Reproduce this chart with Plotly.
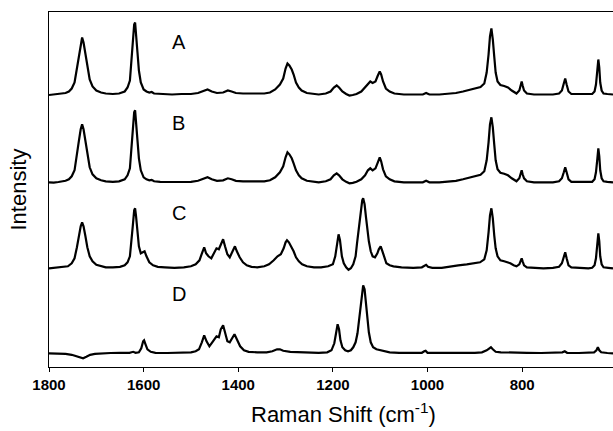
import plotly.graph_objects as go

# Raman spectra: (wavenumber cm-1, intensity above own baseline, arb. units)
SPEC_A = [(1800,-0.5),(1790,0),(1780,0.3),(1772,1),(1765,1.5),(1758,3),(1752,6),(1746,12),(1741,26),(1737,40),(1733,52),(1730,57),(1727,52),(1723,40),(1719,27),(1714,15),(1708,8),(1700,4),(1690,2),(1680,1),(1665,0.5),(1652,1),(1640,3),(1634,7),(1629,14),(1626,30),(1623,50),(1620,70),(1618,72),(1616,62),(1613,42),(1610,24),(1606,12),(1600,5),(1594,3),(1588,2),(1583,2.5),(1578,1),(1565,0.5),(1540,0),(1520,0.5),(1500,0.5),(1485,1.5),(1475,3),(1465,5),(1456,3),(1445,1.5),(1432,2),(1422,4),(1414,3),(1405,1.5),(1390,1),(1370,1),(1355,1),(1345,1),(1333,2),(1322,5),(1312,10),(1305,16),(1300,26),(1296,31),(1292,29),(1287,25),(1283,20),(1278,12),(1272,7),(1266,4),(1255,1.5),(1242,0.5),(1230,0),(1215,1),(1205,3),(1198,7),(1192,9),(1187,7),(1180,3),(1172,0.5),(1165,-1),(1158,-0.5),(1150,0.5),(1140,3),(1132,7),(1126,11),(1121,13),(1116,11.5),(1110,13),(1105,19),(1101,23),(1098,20),(1094,13),(1088,6),(1080,3),(1070,1),(1050,0),(1030,0),(1010,0),(1003,1.5),(996,0),(975,0),(955,0.5),(940,1.5),(925,3),(910,5),(898,6),(888,7.5),(880,11),(875,22),(871,40),(868,58),(865,66),(862,55),(859,38),(856,22),(852,13),(846,9.5),(838,8.5),(830,7),(822,4),(815,1.5),(812,1),(806,4),(803,10),(801,13),(799,9),(796,4),(790,1),(775,0),(755,0),(735,0),(722,1),(716,4),(712,11),(709,16),(706,10),(702,3),(696,0.5),(680,0.5),(665,0),(652,0.5),(647,3),(644,10),(641,25),(639,35),(637,27),(635,12),(632,4),(628,1),(620,0.5),(608,0)]

SPEC_B = [(1800,0),(1790,-0.3),(1780,0.3),(1772,1),(1765,1.5),(1758,3),(1752,6),(1746,12),(1741,26),(1737,41),(1733,53),(1730,58),(1727,53),(1723,41),(1719,27),(1714,15),(1708,8),(1700,4),(1690,2),(1680,1),(1665,0.5),(1652,1),(1640,3),(1634,7),(1629,14),(1626,30),(1623,50),(1620,70),(1618,72),(1616,62),(1613,42),(1610,24),(1606,12),(1600,5),(1594,3),(1588,2),(1583,2.5),(1578,1),(1565,0.5),(1540,0.3),(1520,0.5),(1500,0.5),(1485,1.5),(1475,3),(1465,5),(1456,3),(1445,1.5),(1432,2),(1422,4),(1414,3),(1405,1.5),(1390,1),(1370,1),(1355,1),(1345,1),(1333,2),(1322,5),(1312,10),(1305,16),(1300,25),(1296,30),(1292,28),(1287,24),(1283,19),(1278,12),(1272,7),(1266,4),(1255,1.5),(1242,0.5),(1230,0),(1215,1),(1205,3),(1198,7),(1192,9),(1187,7),(1180,3),(1172,0.5),(1165,-1),(1158,-0.5),(1150,0.5),(1140,3),(1132,7),(1126,12),(1121,14),(1116,12),(1110,14),(1105,20),(1101,25),(1098,21),(1094,13),(1088,6),(1080,3),(1070,1),(1050,0),(1030,0),(1010,0),(1003,1.5),(996,0),(975,0),(955,0.5),(940,1.5),(925,3),(910,5),(898,6),(888,7.5),(880,11),(875,22),(871,40),(868,58),(865,65),(862,55),(859,38),(856,22),(852,13),(846,9.5),(838,8.5),(830,7),(822,4),(815,1.5),(812,1),(806,4),(803,9),(801,12),(799,8),(796,4),(790,1),(775,0),(755,0),(735,0),(722,1),(716,4),(712,10),(709,15),(706,10),(702,3),(696,0.5),(680,0.5),(665,0),(652,0.5),(647,3),(644,10),(641,24),(639,34),(637,26),(635,12),(632,4),(628,1),(620,0.5),(608,0)]

SPEC_C = [(1800,0),(1785,0.5),(1770,1),(1760,2),(1752,5),(1746,10),(1741,21),(1737,32),(1733,42),(1730,46),(1727,42),(1723,32),(1719,21),(1714,12),(1708,7),(1700,3.5),(1690,2),(1680,1),(1665,1),(1650,1.5),(1640,3),(1634,6),(1629,12),(1626,25),(1623,42),(1620,58),(1618,60),(1616,52),(1613,36),(1610,22),(1606,15),(1602,16),(1598,17),(1594,12),(1588,6),(1580,3),(1570,1.5),(1555,1),(1535,0.5),(1515,1),(1500,2),(1490,4),(1482,8),(1476,16),(1472,21),(1468,15),(1463,12),(1457,10),(1452,15),(1446,20),(1441,19),(1436,25),(1432,29),(1428,22),(1423,14),(1418,11),(1413,16),(1407,22),(1403,17),(1397,11),(1390,6),(1382,3),(1372,1.5),(1360,1),(1345,2),(1335,4),(1325,8),(1317,12),(1310,14),(1304,20),(1300,26),(1297,28),(1293,26),(1288,22),(1283,17),(1278,11),(1272,7),(1265,4),(1255,2),(1240,1),(1225,1),(1210,2),(1200,4),(1195,12),(1191,26),(1188,34),(1185,28),(1181,12),(1177,5),(1172,1),(1167,-1.5),(1162,0),(1157,4),(1152,12),(1149,25),(1145,42),(1141,58),(1138,68),(1136,70),(1133,64),(1130,51),(1127,38),(1124,27),(1120,17),(1116,12),(1111,11),(1106,15),(1103,19),(1099,22),(1096,18),(1092,11),(1087,5),(1080,3),(1072,2),(1055,1),(1030,0.5),(1012,1),(1006,2.5),(1003,3.5),(999,1.5),(990,0.5),(970,0.5),(950,1.5),(935,3),(917,4),(900,5),(889,6),(880,9),(875,18),(871,36),(868,53),(865,60),(862,50),(859,33),(856,20),(852,12),(846,8),(838,7),(830,6),(825,5),(818,3),(812,2),(806,4),(803,8),(801,10),(799,7),(796,3),(790,1),(775,0.5),(755,0),(735,0.5),(722,1.5),(716,5),(712,11),(709,16),(706,10),(702,3),(696,1),(680,0.5),(660,0),(652,0.5),(647,3),(644,10),(641,25),(639,35),(637,27),(635,12),(632,4),(628,1),(618,0.5),(608,0)]

SPEC_D = [(1800,0),(1780,0),(1765,-0.5),(1752,-1.5),(1742,-3),(1735,-4.5),(1728,-5),(1721,-3.5),(1713,-1.5),(1703,-0.5),(1690,0),(1670,0.3),(1650,0.5),(1630,0.5),(1622,1.5),(1617,0.5),(1610,1),(1605,5),(1601,12),(1599,13),(1596,9),(1592,4),(1585,1.5),(1575,0.5),(1550,0.3),(1520,0.5),(1500,1),(1490,2),(1483,4),(1477,11),(1472,18),(1467,12),(1461,7),(1455,11),(1450,15),(1446,17),(1441,16),(1437,24),(1432,28),(1428,21),(1423,12),(1418,11),(1413,15),(1408,19),(1403,14),(1396,7),(1388,3),(1378,1.5),(1360,1),(1340,1),(1328,2),(1318,4),(1312,4),(1305,2.5),(1290,1.5),(1270,1),(1250,0.5),(1230,0.5),(1212,1),(1203,3),(1197,10),(1193,22),(1190,29),(1187,24),(1184,13),(1180,6),(1174,3),(1168,2),(1162,3),(1157,6),(1152,11),(1148,20),(1144,36),(1141,52),(1138,66),(1136,68),(1133,64),(1130,50),(1127,34),(1124,21),(1120,11),(1115,6),(1108,4),(1100,3),(1092,2),(1080,1),(1060,0.5),(1030,0.5),(1012,0.5),(1007,2),(1004,2.5),(1000,0.5),(980,0.3),(940,0.5),(900,0.5),(885,1),(875,3),(870,5),(866,6),(862,4),(856,1.5),(845,1),(820,0.5),(790,0.5),(760,0.3),(725,0.5),(715,1),(710,2),(705,0.5),(680,0.3),(660,0.3),(648,1),(643,3),(640,6),(637,3),(633,1),(620,0.3),(608,0)]

SPECTRA = [SPEC_A, SPEC_B, SPEC_C, SPEC_D]
LABELS = ["A", "B", "C", "D"]
OFFSETS = [272.5, 184.7, 98.7, 13.7]          # vertical stacking offsets
LABEL_HEIGHTS = [325, 243.7, 154.5, 73.3]      # y position of letters
LABEL_X = 1526
X_TICKS = [1800, 1600, 1400, 1200, 1000, 800]
X_RANGE = [1800, 608]
Y_RANGE = [0, 355]

FONT = "Liberation Sans, Arial, sans-serif"

fig = go.Figure()
for spec, off in zip(SPECTRA, OFFSETS):
    xs = [p[0] for p in spec]
    ys = [p[1] + off for p in spec]
    fig.add_trace(go.Scatter(x=xs, y=ys, mode="lines",
                             line=dict(color="black", width=2.2),
                             showlegend=False, hoverinfo="skip"))

for lab, yy in zip(LABELS, LABEL_HEIGHTS):
    fig.add_annotation(x=LABEL_X, y=yy, text=lab, showarrow=False,
                       font=dict(family=FONT, size=20, color="black"),
                       xanchor="center", yanchor="middle")

fig.add_annotation(xref="paper", yref="paper", x=(343 - 49) / 564, y=-46 / 355,
                   text="Raman Shift (cm<sup>-1</sup>)", showarrow=False,
                   font=dict(family=FONT, size=22, color="black"),
                   xanchor="center", yanchor="middle")
fig.add_annotation(xref="paper", yref="paper", x=0, xshift=-31, y=0.5,
                   text="Intensity", textangle=-90, showarrow=False,
                   font=dict(family=FONT, size=22, color="black"),
                   xanchor="center", yanchor="middle")

fig.update_layout(
    width=613, height=431,
    margin=dict(l=49, r=0, t=12, b=64),
    paper_bgcolor="white", plot_bgcolor="white",
    xaxis=dict(range=X_RANGE, tickvals=X_TICKS, ticks="outside", ticklen=4,
               tickwidth=1, tickcolor="black", showline=True, linecolor="black",
               linewidth=1, mirror=True, showgrid=False, zeroline=False,
               tickfont=dict(family=FONT, size=15, color="black", weight="bold")),
    yaxis=dict(range=Y_RANGE, showticklabels=False, ticks="", showline=True,
               linecolor="black", linewidth=1, showgrid=False, zeroline=False),
)

fig.write_html("out.html")
